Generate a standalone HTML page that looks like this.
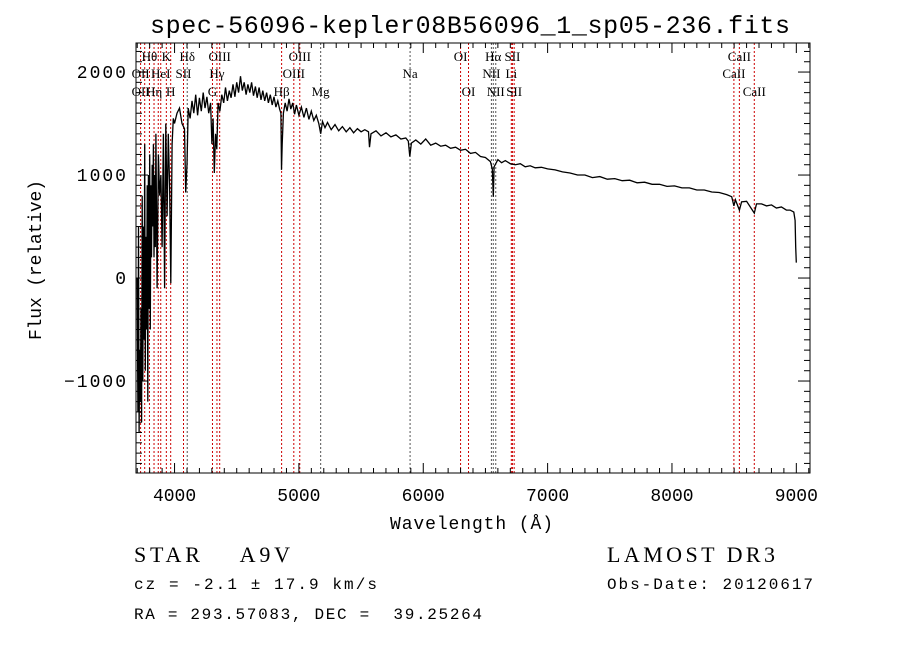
<!DOCTYPE html>
<html><head><meta charset="utf-8"><style>
body{margin:0;background:#fff;width:900px;height:649px;overflow:hidden}
svg{display:block}
.t{font-family:"Liberation Serif",serif;fill:#000}
.m{font-family:"Liberation Mono",monospace;fill:#000}
</style></head><body>
<svg id="c" width="900" height="649" xmlns="http://www.w3.org/2000/svg"></svg>
<script>
const xTicks=[4000,5000,6000,7000,8000,9000];
const yTicks=[-1000,0,1000,2000];
const yTickLabels=["\u22121000","0","1000","2000"];
const wave=[3700,3705,3710,3715,3720,3725,3730,3735,3740,3745,3750,3755,3760,3765,3770,3775,3780,3785,3790,3795,3800,3805,3810,3815,3820,3825,3830,3835,3840,3845,3850,3860,3870,3880,3890,3900,3910,3920,3930,3940,3950,3960,3970,3980,3990,4000,4020,4040,4060,4080,4090,4100,
4110,4125,4140,4155,4170,4185,4200,4215,4230,4245,4260,4275,4290,4300,4310,4320,4330,4340,4350,4365,4380,4395,4410,4425,4440,4455,4470,4485,4500,4515,4530,4545,4560,4575,4590,4605,4620,4635,4650,4665,4680,4695,4710,4725,4740,4755,4770,4785,4800,4815,4830,4845,4855,4860,4866,4875,4890,4905,4920,4935,4950,4965,4980,5000,5020,5040,5060,5080,5100,5120,5140,5160,5175,5190,5210,5230,5260,5290,5320,5350,5380,5410,5440,5470,5500,5530,5560,5568,5580,
5620,5660,5700,5740,5780,5820,5860,5880,5892,5905,5940,5980,6020,6060,6100,6140,6180,6220,6260,6300,6340,6380,6420,6460,6500,6540,6555,6563,6570,6600,6630,6660,6700,6740,6780,6820,6860,6900,6950,7000,7060,7120,7180,7240,7300,7360,7420,7480,7540,7600,7660,7720,7780,7840,7900,7960,8020,8080,8140,8200,8260,8320,8380,8440,8480,8498,8510,8542,8560,8600,8662,8680,8720,8760,8800,8840,8880,8920,8950,8980,8990,8995,9000];
const flux=[0,-1300,500,-1500,-700,-1200,-300,-1400,800,-1000,500,-600,1300,-900,400,-500,900,-1200,1000,-300,1200,-500,900,200,1100,500,1300,200,1000,300,1400,-100,1200,800,1000,300,1400,-100,1500,600,1400,900,-50,1300,1550,1500,1600,1650,1500,1450,830,1100,
1650,1550,1720,1600,1780,1580,1750,1620,1800,1650,1760,1600,1700,1300,1550,1020,1400,1250,1700,1620,1780,1700,1850,1720,1820,1750,1880,1760,1900,1800,1960,1820,1900,1780,1880,1800,1900,1770,1860,1750,1850,1730,1820,1720,1800,1700,1780,1680,1760,1660,1720,1640,1600,1050,1300,1600,1700,1620,1740,1640,1700,1590,1680,1580,1660,1560,1650,1540,1620,1530,1580,1500,1400,1520,1460,1510,1440,1490,1430,1470,1420,1460,1410,1450,1420,1440,1420,1270,1400,
1430,1380,1410,1370,1390,1350,1360,1330,1180,1310,1340,1300,1350,1290,1310,1280,1290,1260,1270,1240,1250,1210,1220,1180,1170,1130,1060,790,1080,1150,1120,1140,1110,1100,1110,1080,1090,1070,1075,1060,1050,1030,1020,1000,1000,975,985,960,965,945,950,925,930,910,910,890,895,875,875,855,855,835,830,810,790,700,760,660,740,745,630,720,720,700,710,680,690,660,660,640,560,300,150,30];
const lineWave=[3727,3760,3798,3835,3869,3889,3934,3969,4072,4102,4305,4341,4363,4861,4959,5007,5175,5894,6300,6364,6548,6563,6583,6708,6717,6731,8498,8542,8662];
const lineGray=[0,0,0,0,0,0,0,0,0,1,0,0,0,0,0,0,1,1,0,0,1,1,1,0,0,0,0,0,0];
const labelText=["H\u03b8","K","H\u03b4","OIII","OIII","OI","H\u03b1","SII","CaII","OII","HeI","SII","H\u03b3","OIII","Na","NII","Li","CaII","OII","H\u03b7","H","G","H\u03b2","Mg","OI","NII","SII","CaII"];
const labelWave=[3798,3934,4102,4363,5007,6300,6563,6717,8542,3727,3889,4072,4341,4959,5894,6548,6708,8498,3727,3835,3969,4305,4861,5175,6364,6583,6731,8662];
const labelRow=[0,0,0,0,0,0,0,0,0,1,1,1,1,1,1,1,1,1,2,2,2,2,2,2,2,2,2,2];
const NS="http://www.w3.org/2000/svg";
const svg=document.getElementById('c');
const L=136,R=810,T=43,B=473,X0=3690,X1=9110,Y0=-1893,Y1=2282;
const sx=v=>L+(v-X0)/(X1-X0)*(R-L);
const sy=v=>B-(v-Y0)/(Y1-Y0)*(B-T);
function mk(tag,attrs,parent){const e=document.createElementNS(NS,tag);for(const k in attrs)e.setAttribute(k,attrs[k]);(parent||svg).appendChild(e);return e;}
function txt(s,x,y,cls,size,anchor,parent){const e=mk('text',{x:x,y:y,class:cls,'font-size':size,'text-anchor':anchor||'start'},parent);e.textContent=s;e.style.whiteSpace='pre';return e;}
let e=txt("spec-56096-kepler08B56096_1_sp05-236.fits",150,33,'m',25,'start');
e.setAttribute('textLength','640');


const gl=mk('g',{});


lineWave.forEach((w,i)=>{const l=mk('line',{x1:sx(w),x2:sx(w),y1:T,y2:B,stroke:lineGray[i]?'#555':'#c00','stroke-width':1,'stroke-dasharray':'2,2'},gl);

});
const glab=mk('g',{});


const rowY=[61,78,96];
labelText.forEach((s,i)=>{const t=txt(s,sx(labelWave[i]),rowY[labelRow[i]],'t',13,'middle',glab);

});
let d='';wave.forEach((w,i)=>{d+=(i?'L':'M')+sx(w).toFixed(1)+','+sy(flux[i]).toFixed(1);});
e=mk('path',{d:d,fill:'none',stroke:'#000','stroke-width':1.3});


e=mk('rect',{x:L,y:T,width:R-L,height:B-T,fill:'none',stroke:'#000','stroke-width':1});


const gx=mk('g',{});


for(let v=3700;v<=9100;v+=100){const x=sx(v);const maj=v%1000===0;const len=maj?10:5;
mk('line',{x1:x,x2:x,y1:B,y2:B-len,stroke:'#000'},gx);mk('line',{x1:x,x2:x,y1:T,y2:T+len,stroke:'#000'},gx);}
xTicks.forEach(v=>{const t=txt(String(v),sx(v),501,'m',18,'middle',gx);

});
const gy=mk('g',{});


for(let v=-1800;v<=2200;v+=100){const y=sy(v);const maj=v%1000===0;const len=maj?12:6;
mk('line',{x1:L,x2:L+len,y1:y,y2:y,stroke:'#000'},gy);mk('line',{x1:R,x2:R-len,y1:y,y2:y,stroke:'#000'},gy);}
yTicks.forEach((v,i)=>{const t=txt(yTickLabels[i],128,sy(v)+6,'m',18,'end',gy);
t.setAttribute('letter-spacing','2');

});
e=txt("Wavelength (\u00c5)",390,529,'m',18,'start');
e.setAttribute('textLength','163');


e=txt("Flux (relative)",0,0,'m',18,'start');
e.setAttribute('textLength','160');
e.setAttribute('transform','translate(41,340) rotate(-90)');


e=txt("STAR    A9V",134,562,'t',22,'start');
e.setAttribute('textLength','156');


e=txt("LAMOST DR3",607,562,'t',22,'start');
e.setAttribute('textLength','168');


e=txt("cz = -2.1 \u00b1 17.9 km/s",134,589,'m',16,'start');
e.setAttribute('textLength','243');


e=txt("Obs-Date: 20120617",607,589,'m',16,'start');
e.setAttribute('textLength','206');


e=txt("RA = 293.57083, DEC =  39.25264",134,619,'m',16,'start');
e.setAttribute('textLength','348');


</script>
</body></html>
